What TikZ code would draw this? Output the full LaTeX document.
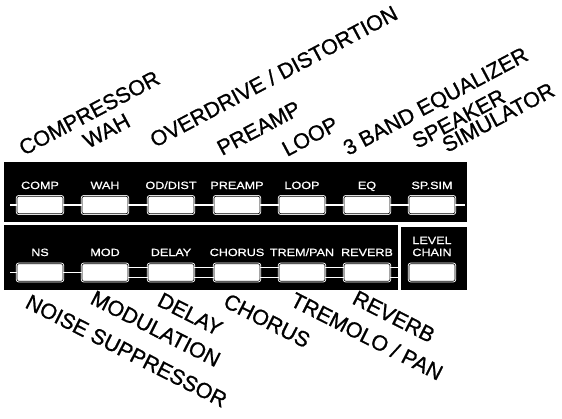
\documentclass[tikz,border=0pt]{standalone}
\usepackage{fontspec}
\setmainfont{Liberation Sans}
\newfontfamily\panelfont[FakeStretch=1.2,FakeBold=0.8]{Liberation Sans}
\newfontfamily\namefont[FakeBold=1]{Liberation Sans}
\begin{document}
\begin{tikzpicture}[x=1pt,y=-1pt,
  button/.style={draw=white,double=black,double distance=0.6pt,line width=0.9pt,
    fill=white,rounded corners=2pt,minimum width=46pt,minimum height=17.5pt,inner sep=0pt},
  tag/.style={text=white,anchor=base,inner sep=0pt,font=\panelfont\fontsize{10.5}{11}\selectfont},
  wire/.style={white,line width=1.8pt},
  dwire/.style={white,line width=1.5pt},
  uplabel/.style={rotate=28,anchor=base west,inner sep=0pt,font=\namefont\fontsize{21.5}{22}\selectfont},
  downlabel/.style={rotate=-27,anchor=base west,inner sep=0pt,font=\namefont\fontsize{21.5}{22}\selectfont}]
\useasboundingbox (0,0) rectangle (562,418);

% panels
\fill (4,162) rectangle (467,222);
\fill (4,225) rectangle (398,290);
\fill (401,227) rectangle (467,290);

% upper row
\foreach \n/\x/\t in {comp/40/COMP, wah/105/WAH, od/171/{OD/DIST}, pre/237/PREAMP,
    loop/302/LOOP, eq/367/EQ, spsim/432/SP.SIM}{
  \node[button] (\n) at (\x,205) {};
  \node[tag] (\n-t) at (\x,189) {\t};
}
\coordinate (tl) at (10,205);
\coordinate (tr) at (465,205);
\draw[wire] (tl) -- (comp);
\foreach \a/\b in {comp/wah, wah/od, od/pre, pre/loop, loop/eq, eq/spsim}
  \draw[wire] (\a) -- (\b);
\draw[wire] (spsim) -- (tr);

% lower row
\foreach \n/\x/\t in {ns/40/NS, mod/105/MOD, delay/171/DELAY, chorus/237/CHORUS,
    trem/302/{TREM/PAN}, reverb/367/REVERB}{
  \node[button] (\n) at (\x,272.5) {};
  \node[tag] (\n-t) at (\x,256) {\t};
}
\node[button] (level) at (432,272.5) {};
\node[tag] (level-t) at (432,244) {LEVEL};
\node[tag] (chain-t) at (432,256) {CHAIN};
\coordinate (bl) at (10,272.5);
\coordinate (br) at (398,272.5);
\draw[wire] (bl) -- (ns);
\draw[wire] (ns) -- (mod);
\foreach \a/\b in {mod/delay, delay/chorus, chorus/trem, trem/reverb}
  \draw[dwire] ([yshift=5pt]\a.east) -- ([yshift=5pt]\b.west)
               ([yshift=-5pt]\a.east) -- ([yshift=-5pt]\b.west);
\draw[dwire] ([yshift=5pt]reverb.east) -- ([yshift=5pt]br)
             ([yshift=-5pt]reverb.east) -- ([yshift=-5pt]br);

% names above
\node[uplabel] (compL) at (24,156) {COMPRESSOR};
\node[uplabel] (wahL) at (88,149) {WAH};
\node[uplabel] (odL) at (155,148) {OVERDRIVE / DISTORTION};
\node[uplabel] (preL) at (222,156) {PREAMP};
\node[uplabel] (loopL) at (287,157) {LOOP};
\node[uplabel] (eqL) at (348,156) {3 BAND EQUALIZER};
\node[uplabel] (spL) at (417,149) {SPEAKER};
\node[uplabel] (simL) at (447,153) {SIMULATOR};

% names below
\node[downlabel] (nsL) at (24,307) {NOISE SUPPRESSOR};
\node[downlabel] (modL) at (89,303) {MODULATION};
\node[downlabel] (delayL) at (156,305) {DELAY};
\node[downlabel] (chorusL) at (222,306) {CHORUS};
\node[downlabel] (tremL) at (289,305) {TREMOLO / PAN};
\node[downlabel] (reverbL) at (351,303) {REVERB};
\end{tikzpicture}
\end{document}
